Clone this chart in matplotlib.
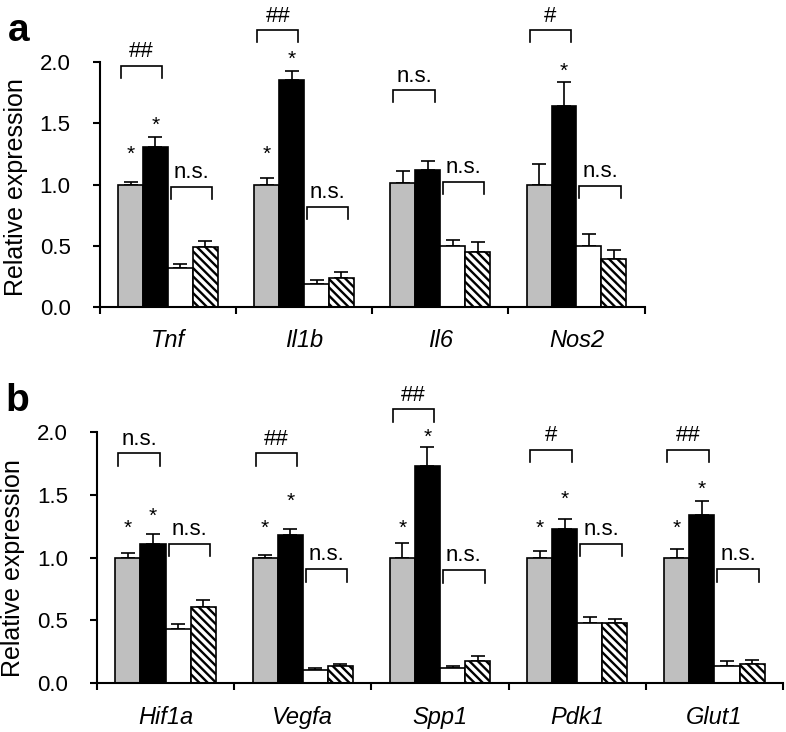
import numpy as np
import matplotlib
matplotlib.use('Agg')
import matplotlib.pyplot as plt
from matplotlib import transforms

plt.rcParams['font.family'] = ['Liberation Sans', 'DejaVu Sans']
plt.rcParams['hatch.linewidth'] = 1.7

# panel a
genes_a = ['Tnf', 'Il1b', 'Il6', 'Nos2']
gray_a = [1.00, 1.00, 1.01, 1.00]
gray_err_a = [0.02, 0.05, 0.10, 0.17]
black_a = [1.31, 1.85, 1.12, 1.64]
black_err_a = [0.08, 0.08, 0.07, 0.20]
white_a = [0.32, 0.19, 0.50, 0.50]
white_err_a = [0.03, 0.03, 0.05, 0.10]
hatch_a = [0.49, 0.24, 0.45, 0.39]
hatch_err_a = [0.05, 0.045, 0.08, 0.075]
top_label_a = ['##', '##', 'n.s.', '#']
top_y_a = [1.97, 2.26, 1.77, 2.26]
bot_y_a = [0.98, 0.82, 1.02, 0.99]
gray_star_a = [1.28, 1.28, None, None]
black_star_a = [1.52, 2.06, None, 1.96]

# panel b
genes_b = ['Hif1a', 'Vegfa', 'Spp1', 'Pdk1', 'Glut1']
gray_b = [1.00, 1.00, 1.00, 1.00, 1.00]
gray_err_b = [0.035, 0.02, 0.12, 0.05, 0.07]
black_b = [1.11, 1.18, 1.73, 1.23, 1.34]
black_err_b = [0.08, 0.045, 0.15, 0.08, 0.11]
white_b = [0.43, 0.11, 0.12, 0.48, 0.14]
white_err_b = [0.045, 0.01, 0.015, 0.045, 0.035]
hatch_b = [0.61, 0.14, 0.18, 0.48, 0.15]
hatch_err_b = [0.055, 0.012, 0.04, 0.035, 0.035]
top_label_b = ['n.s.', '##', '##', '#', '##']
top_y_b = [1.83, 1.83, 2.18, 1.86, 1.86]
bot_y_b = [1.11, 0.91, 0.90, 1.11, 0.91]
gray_star_b = [1.27, 1.27, 1.27, 1.27, 1.27]
black_star_b = [1.365, 1.48, 1.99, 1.50, 1.58]

W = 0.183
LEG = 0.1


def bracket(ax, x0, x1, y, label):
    ax.plot([x0, x0, x1, x1], [y - LEG, y, y, y - LEG], color='black', lw=1.2,
            clip_on=False, solid_joinstyle='miter')
    ax.text((x0 + x1) / 2, y + 0.07, label, ha='center', va='baseline', fontsize=16)


def draw_panel(ax, genes, vals, errs, top_labels, top_y, bot_y, gstar, bstar):
    n = len(genes)
    x = np.arange(n)
    styles = [dict(color='#bfbfbf'), dict(color='black'),
              dict(color='white'), dict(color='white', hatch='\\\\\\\\')]
    centers = []
    for k in range(4):
        xc = x + (k - 1.5) * W
        centers.append(xc)
        ax.bar(xc, vals[k], W, edgecolor='black', linewidth=1.2, zorder=2, **styles[k])
        ax.errorbar(xc, vals[k], yerr=[np.zeros(n), errs[k]], fmt='none', ecolor='black',
                    elinewidth=1.2, capsize=5, capthick=1.2, zorder=1)
    star_tr = transforms.offset_copy(ax.transData, fig=ax.figure, y=-7, units='points')
    for i in range(n):
        bracket(ax, centers[0][i] - 0.07, centers[1][i] + 0.05, top_y[i], top_labels[i])
        bracket(ax, centers[2][i] - 0.07, centers[3][i] + 0.05, bot_y[i], 'n.s.')
        if gstar[i] is not None:
            ax.text(centers[0][i], gstar[i], '*', ha='center', va='baseline', fontsize=15,
                    transform=star_tr)
        if bstar[i] is not None:
            ax.text(centers[1][i], bstar[i], '*', ha='center', va='baseline', fontsize=15,
                    transform=star_tr)

    ax.set_xlim(-0.5, n - 0.5)
    ax.set_ylim(0, 2.0)
    ax.set_yticks([0, 0.5, 1.0, 1.5, 2.0])
    ax.set_yticklabels(['0.0', '0.5', '1.0', '1.5', '2.0'])
    ax.set_xticks(np.arange(n + 1) - 0.5)
    ax.set_xticklabels([])
    ax.set_xticks(x, minor=True)
    ax.set_xticklabels(genes, minor=True, style='italic', fontsize=17)
    ax.tick_params(axis='x', which='minor', length=0, pad=16)
    ax.tick_params(axis='both', which='major', length=5, width=1.5, labelsize=16)
    ax.tick_params(axis='y', which='major', pad=16)
    for s in ['top', 'right']:
        ax.spines[s].set_visible(False)
    for s in ['left', 'bottom']:
        ax.spines[s].set_linewidth(1.5)
    ax.set_ylabel('Relative expression', fontsize=18, va='center')


fig = plt.figure(figsize=(7.86, 7.32), dpi=100)
ax_a = fig.add_axes([0.127, 0.5806, 0.693, 0.3347])
ax_b = fig.add_axes([0.1234, 0.0665, 0.8728, 0.3433])

draw_panel(ax_a, genes_a, [gray_a, black_a, white_a, hatch_a],
           [gray_err_a, black_err_a, white_err_a, hatch_err_a],
           top_label_a, top_y_a, bot_y_a, gray_star_a, black_star_a)
draw_panel(ax_b, genes_b, [gray_b, black_b, white_b, hatch_b],
           [gray_err_b, black_err_b, white_err_b, hatch_err_b],
           top_label_b, top_y_b, bot_y_b, gray_star_b, black_star_b)

ax_a.yaxis.set_label_coords(-0.154, 0.49)
ax_b.yaxis.set_label_coords(-0.122, 0.46)

fig.text(0.024, 0.958, 'a', fontsize=28, fontweight='bold', ha='center', va='center')
fig.text(0.022, 0.452, 'b', fontsize=28, fontweight='bold', ha='center', va='center')

fig.savefig('out.png', dpi=100)
